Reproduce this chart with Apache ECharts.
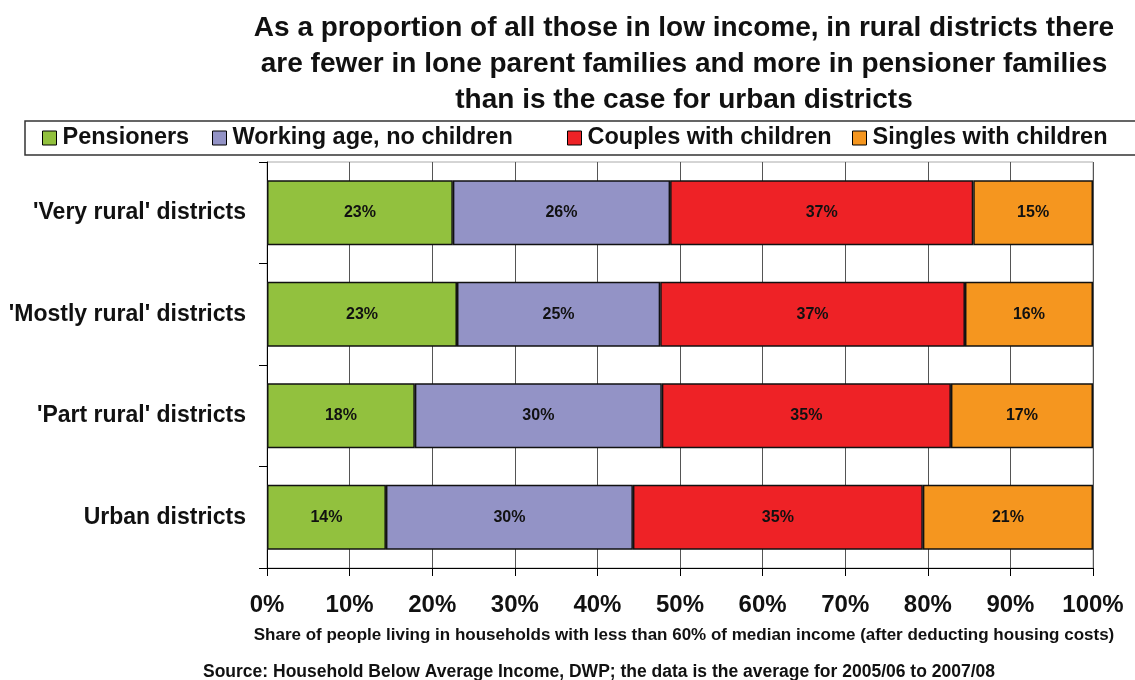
<!DOCTYPE html>
<html>
<head>
<meta charset="utf-8">
<script src="https://cdn.jsdelivr.net/npm/echarts@6/dist/echarts.min.js"></script>
<style>html,body{margin:0;padding:0;background:#fff;}#c{width:1135px;height:680px;}</style>
</head>
<body>
<div id="c"></div>
<script>
const categories = ["'Very rural' districts", "'Mostly rural' districts", "'Part rural' districts", "Urban districts"];
const seriesNames = ["Pensioners", "Working age, no children", "Couples with children", "Singles with children"];
const pensioners = [22.5, 23.0, 17.9, 14.4];
const workingAge = [26.3, 24.6, 29.9, 29.9];
const couples = [36.7, 36.9, 35.0, 35.1];
const singles = [14.5, 15.5, 17.2, 20.6];
const xTicks = [0, 10, 20, 30, 40, 50, 60, 70, 80, 90, 100];
const titleLines = [
  "As a proportion of all those in low income, in rural districts there",
  "are fewer in lone parent families and more in pensioner families",
  "than is the case for urban districts"
];
const axisName = "Share of people living in households with less than 60% of median income (after deducting housing costs)";
const sourceText = "Source: Household Below Average Income, DWP; the data is the average for 2005/06 to 2007/08";

const colors = ['#92C13E', '#9393C6', '#EE2226', '#F5961F'];
const FONT = 'Liberation Sans, Arial, sans-serif';
const TXT = '#111';

const chart = echarts.init(document.getElementById('c'), null, {renderer: 'canvas'});
const values = [pensioners, workingAge, couples, singles];
const legendLefts = [42, 212, 567, 852];

const option = {
  backgroundColor: '#fff',
  animation: false,
  textStyle: {fontFamily: FONT},
  grid: {left: 267, right: 42, top: 162, bottom: 112, show: true, borderColor: '#aaa', borderWidth: 1,
    containLabel: false, outerBoundsMode: 'none'},
  legend: seriesNames.map((n, i) => ({
    data: [n], left: legendLefts[i], top: 126, icon: 'rect', itemWidth: 14, itemHeight: 14, itemGap: 6,
    padding: 0,
    itemStyle: {borderColor: '#000', borderWidth: 1},
    textStyle: {fontFamily: FONT, fontSize: 23.5, fontWeight: 'bold', color: TXT, padding: [0, 0, 0, 1]}
  })),
  xAxis: {
    type: 'value', min: xTicks[0], max: xTicks[xTicks.length - 1], interval: 10,
    axisLine: {show: true, lineStyle: {color: '#000', width: 1}},
    axisTick: {show: true, length: 8, lineStyle: {color: '#000'}},
    splitLine: {show: true, lineStyle: {color: '#555', width: 1}},
    axisLabel: {formatter: '{value}%', fontFamily: FONT, fontSize: 24, fontWeight: 'bold', color: TXT, margin: 25}
  },
  yAxis: {
    type: 'category', data: categories, inverse: true,
    axisLine: {show: true, lineStyle: {color: '#000', width: 1}},
    axisTick: {show: true, length: 8, alignWithLabel: false, lineStyle: {color: '#000'}},
    axisLabel: {fontFamily: FONT, fontSize: 23, fontWeight: 'bold', color: TXT, margin: 21}
  },
  series: seriesNames.map((n, i) => ({
    name: n, type: 'bar', stack: 'total', data: values[i], barCategoryGap: '36%',
    itemStyle: {color: colors[i], borderColor: '#111', borderWidth: 1.5},
    label: {show: true, position: 'inside', formatter: p => Math.round(p.value) + '%',
      fontFamily: FONT, fontSize: 16, fontWeight: 'bold', color: '#111'}
  })),
  graphic: [
    {type: 'rect', shape: {x: 25, y: 121, width: 1200, height: 34}, style: {fill: 'none', stroke: '#333', lineWidth: 1.5}, silent: true, z: 0},
    {type: 'text', x: 684, y: 10, style: {text: titleLines.join('\n'), fontFamily: FONT, fontSize: 28, fontWeight: 'bold', fill: TXT, textAlign: 'center', lineHeight: 36}},
    {type: 'text', x: 684, y: 627, style: {text: axisName, fontFamily: FONT, fontSize: 17, fontWeight: 'bold', fill: TXT, textAlign: 'center'}},
    {type: 'text', x: 599, y: 663, style: {text: sourceText, fontFamily: FONT, fontSize: 17.5, fontWeight: 'bold', fill: TXT, textAlign: 'center'}}
  ]
};
chart.setOption(option);
</script>
</body>
</html>
